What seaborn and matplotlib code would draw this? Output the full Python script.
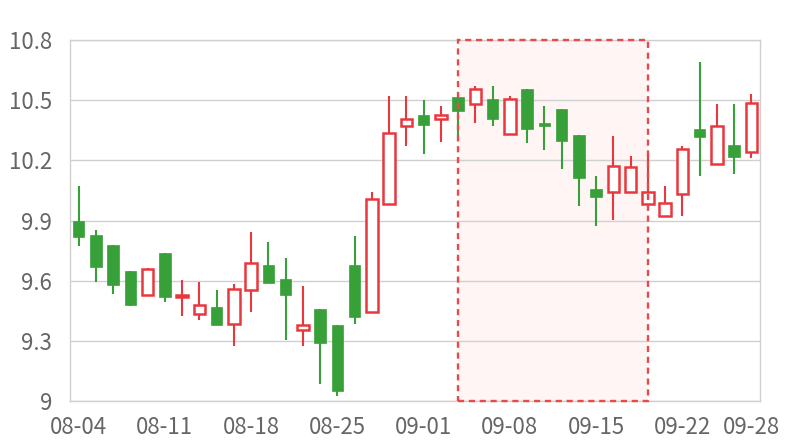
import matplotlib
matplotlib.use("Agg")
import matplotlib.pyplot as plt
import seaborn as sns
import pandas as pd
from matplotlib.patches import Rectangle

dates = ["08-04", "08-05", "08-06", "08-07", "08-08",
         "08-11", "08-12", "08-13", "08-14", "08-15",
         "08-18", "08-19", "08-20", "08-21", "08-22",
         "08-25", "08-26", "08-27", "08-28", "08-29",
         "09-01", "09-02", "09-03", "09-04", "09-05",
         "09-08", "09-09", "09-10", "09-11", "09-12",
         "09-15", "09-16", "09-17", "09-18", "09-19",
         "09-22", "09-23", "09-24", "09-25", "09-28"]

open_ = [9.898, 9.828, 9.778, 9.648, 9.530, 9.738, 9.520, 9.433, 9.469, 9.384,
         9.554, 9.678, 9.609, 9.353, 9.459, 9.378, 9.678, 9.444, 9.982, 10.371,
         10.426, 10.408, 10.517, 10.481, 10.506, 10.331, 10.556, 10.388, 10.456, 10.326,
         10.057, 10.041, 10.041, 9.981, 9.923, 10.032, 10.355, 10.180, 10.275, 10.240]
close = [9.819, 9.670, 9.580, 9.479, 9.658, 9.520, 9.527, 9.477, 9.381, 9.557,
         9.687, 9.590, 9.530, 9.378, 9.291, 9.052, 9.421, 10.006, 10.335, 10.405,
         10.376, 10.425, 10.448, 10.554, 10.408, 10.504, 10.358, 10.370, 10.298, 10.110,
         10.019, 10.173, 10.165, 10.044, 9.986, 10.255, 10.318, 10.373, 10.218, 10.484]
high = [10.072, 9.853, 9.778, 9.648, 9.663, 9.738, 9.604, 9.592, 9.554, 9.584,
        9.843, 9.793, 9.713, 9.574, 9.459, 9.378, 9.823, 10.041, 10.521, 10.521,
        10.501, 10.471, 10.517, 10.571, 10.571, 10.521, 10.556, 10.471, 10.456, 10.326,
        10.122, 10.321, 10.222, 10.230, 10.072, 10.272, 10.689, 10.481, 10.481, 10.531]
low = [9.773, 9.595, 9.534, 9.475, 9.525, 9.495, 9.426, 9.406, 9.381, 9.276,
       9.446, 9.590, 9.304, 9.276, 9.087, 9.027, 9.384, 9.444, 9.982, 10.273,
       10.233, 10.293, 10.321, 10.385, 10.373, 10.331, 10.285, 10.253, 10.155, 9.974,
       9.874, 9.903, 10.041, 9.961, 9.916, 9.924, 10.124, 10.180, 10.133, 10.213]

highlight_start = "09-03"
highlight_end = "09-18"
y_ticks = [9.0, 9.3, 9.6, 9.9, 10.2, 10.5, 10.8]
y_tick_labels = ["9", "9.3", "9.6", "9.9", "10.2", "10.5", "10.8"]
x_tick_labels = ["08-04", "08-11", "08-18", "08-25", "09-01", "09-08", "09-15", "09-22", "09-28"]

UP = "#e8383d"
DOWN = "#38a038"
GRID = "#d0d0d0"
TEXT = "#666666"

df = pd.DataFrame({"date": dates, "open": open_, "close": close, "high": high, "low": low})
df["pos"] = range(len(df))
df["up"] = df["close"] >= df["open"]

sns.set_theme(style="white")
plt.rcParams["font.family"] = ["Noto Sans CJK SC", "DejaVu Sans"]

fig = plt.figure(figsize=(8, 4.4), dpi=100)
ax = fig.add_axes([0.0875, 0.0886, 0.8625, 0.8205])

# highlighted area
i0 = dates.index(highlight_start)
i1 = dates.index(highlight_end)
ax.add_patch(Rectangle((i0, 9.0), i1 - i0, 1.8, facecolor="#fff5f5", edgecolor="none", zorder=0.5))
ax.add_patch(Rectangle((i0, 9.0), i1 - i0, 1.8, facecolor="none", edgecolor="#e84a4a",
                       linewidth=1.7, linestyle=(0, (2.6, 2.0)), zorder=4, clip_on=False))

# wicks
for up, color in [(True, UP), (False, DOWN)]:
    sub = df[df["up"] == up]
    ax.vlines(sub["pos"], sub["low"], sub["high"], color=color, linewidth=1.5, zorder=2)

# bodies
w = 0.68
up_df = df[df["up"]]
dn_df = df[~df["up"]]
ax.bar(up_df["pos"], (up_df["close"] - up_df["open"]).clip(lower=0.004), bottom=up_df["open"], width=w,
       facecolor="white", edgecolor=UP, linewidth=1.8, zorder=3)
ax.bar(dn_df["pos"], (dn_df["open"] - dn_df["close"]).clip(lower=0.004), bottom=dn_df["close"], width=w,
       facecolor=DOWN, edgecolor=DOWN, linewidth=0.5, zorder=3)

ax.set_xlim(-0.5, len(dates) - 0.5)
ax.set_ylim(9.0, 10.8)
ax.set_yticks(y_ticks)
ax.set_yticklabels(y_tick_labels)
xt = [dates.index(d) for d in x_tick_labels]
ax.set_xticks(xt)
ax.set_xticklabels(x_tick_labels)
ax.tick_params(axis="both", length=0, labelsize=16, labelcolor=TEXT)
ax.tick_params(axis="y", pad=13)
ax.tick_params(axis="x", pad=11)
ax.yaxis.grid(True, color=GRID, linewidth=1)
ax.xaxis.grid(False)
ax.set_axisbelow(True)
for s in ax.spines.values():
    s.set_color(GRID)
    s.set_linewidth(1)
ax.set_xlabel("")
ax.set_ylabel("")

fig.savefig("out.png", dpi=100, facecolor="white")
